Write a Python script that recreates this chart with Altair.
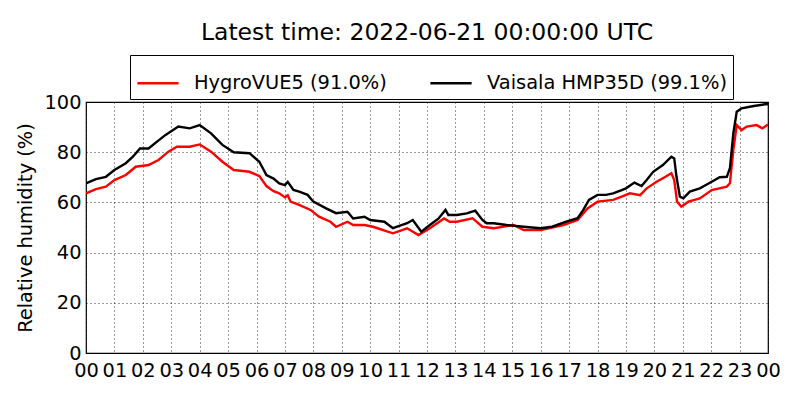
import altair as alt
import pandas as pd

hours_v = [0, 0.35, 0.7, 1.0, 1.4, 1.65, 1.9, 2.2, 2.5, 2.8, 3.25, 3.65, 4.0, 4.4, 4.8, 5.2,
           5.75, 6.1, 6.35, 6.6, 6.8, 7.0, 7.1, 7.3, 7.5, 7.8, 8.0, 8.45, 8.8, 9.2, 9.4, 9.8,
           10.0, 10.5, 10.8, 11.3, 11.5, 11.8, 12.1, 12.4, 12.65, 12.75, 13.05, 13.4, 13.7,
           13.95, 14.1, 14.35, 14.8, 15.4, 16.0, 16.4, 16.9, 17.3, 17.5, 17.7, 18.0, 18.3,
           18.55, 18.85, 19.0, 19.3, 19.55, 19.73, 19.96, 20.3, 20.6, 20.7, 20.78, 20.9, 21.02,
           21.25, 21.6, 22.02, 22.3, 22.55, 22.66, 22.78, 22.9, 23.07, 23.5, 23.95, 24]
vaisala = [67.6, 69.3, 70.2, 72.9, 75.6, 78.2, 81.5, 81.5, 84.2, 86.9, 90.2, 89.5, 90.8, 87.5,
           82.9, 80, 79.6, 76.2, 70.9, 69.5, 67.6, 66.9, 68.2, 65, 64.3, 63, 60.3, 57.6, 55.7,
           56.3, 53.6, 54.3, 53, 52.3, 49.7, 51.7, 53, 48.3, 51, 53.5, 57, 55, 55, 55.6, 56.7,
           53, 51.7, 51.7, 51, 50.3, 49.7, 50.3, 52.3, 53.7, 57, 61, 63, 63, 63.6, 64.9, 65.6,
           67.9, 66.5, 68.9, 72.2, 74.9, 78.2, 77.5, 70.2, 62.3, 61.6, 64.3, 65.6, 68.2, 70,
           70.2, 73.6, 87.5, 96.1, 97.5, 98.4, 99.2, 99.1]

hours_h = [0, 0.35, 0.7, 1.0, 1.4, 1.75, 2.2, 2.55, 2.9, 3.2, 3.65, 4.0, 4.4, 4.8, 5.2, 5.75,
           6.1, 6.35, 6.6, 6.8, 7.0, 7.1, 7.2, 7.5, 7.9, 8.2, 8.6, 8.8, 9.2, 9.4, 9.8, 10.1,
           10.8, 11.3, 11.7, 12.1, 12.6, 12.8, 13.05, 13.6, 13.95, 14.35, 15.05, 15.4, 16.0,
           16.8, 17.3, 17.65, 18.0, 18.55, 18.85, 19.14, 19.5, 19.73, 20.08, 20.3, 20.6, 20.7,
           20.8, 20.95, 21.2, 21.6, 22.02, 22.55, 22.66, 22.78, 22.9, 23.07, 23.25, 23.6, 23.8, 24]
hygrovue = [63.6, 65.3, 66.3, 68.9, 70.9, 74.2, 74.9, 76.9, 80.2, 82.2, 82.2, 83.1, 80.2, 76.2,
            72.9, 72.2, 70.5, 66.5, 64.5, 63.6, 62.0, 62.8, 60.3, 59, 57, 54.3, 52.3, 50.3,
            52.3, 51, 51, 50.3, 47.7, 49.7, 47, 49.7, 53.6, 52.3, 52.3, 53.7, 50.3, 49.7, 51,
            49, 49, 51, 53, 57.6, 60.3, 61, 62.3, 63.6, 62.9, 65.6, 68.2, 69.6, 71.6, 68.9,
            60.3, 58.3, 60.3, 61.6, 64.9, 66.3, 67.6, 80.9, 90.8, 88.8, 90.2, 90.8, 89.5, 91.0]

name_h = "HygroVUE5 (91.0%)"
name_v = "Vaisala HMP35D (99.1%)"

df = pd.concat([
    pd.DataFrame({"hour": hours_h, "rh": hygrovue, "sensor": name_h, "order": 0}),
    pd.DataFrame({"hour": hours_v, "rh": vaisala, "sensor": name_v, "order": 1}),
])

font = "DejaVu Sans"
fs = 19.4

chart = alt.Chart(df).mark_line(strokeWidth=2.4, clip=True).encode(
    x=alt.X("hour:Q", scale=alt.Scale(domain=[0, 24], nice=False),
            axis=alt.Axis(values=list(range(25)), title=None, labelOverlap=False, labelFlush=False,
                          labelExpr="(datum.value % 24) < 10 ? '0' + (datum.value % 24) : '' + (datum.value % 24)")),
    y=alt.Y("rh:Q", scale=alt.Scale(domain=[0, 100], nice=False),
            axis=alt.Axis(values=[0, 20, 40, 60, 80, 100], title="Relative humidity (%)",
                          labelOverlap=False, labelFlush=False)),
    color=alt.Color("sensor:N",
                    scale=alt.Scale(domain=[name_h, name_v], range=["#ff0000", "#000000"]),
                    legend=alt.Legend(title=None, orient="none", legendX=44, legendY=-47,
                                      direction="horizontal", symbolType="stroke",
                                      symbolSize=1700, symbolStrokeWidth=2.5,
                                      labelFontSize=fs, labelFont=font, labelColor="black",
                                      labelLimit=400,
                                      columnPadding=38, labelOffset=14,
                                      strokeColor="black", padding=6, fillColor="white")),
    order="order:Q",
).properties(
    width=682, height=251,
    title=alt.TitleParams("Latest time: 2022-06-21 00:00:00 UTC", fontSize=23.5, font=font,
                          fontWeight="normal", color="black", anchor="middle", offset=10),
    autosize=alt.AutoSizeParams(type="none"),
    padding={"left": 78, "top": 94, "right": 24, "bottom": 38},
).configure_view(
    stroke="black", strokeWidth=1.2
).configure_axis(
    labelFont=font, labelFontSize=fs, labelColor="black",
    titleFont=font, titleFontSize=fs, titleColor="black", titleFontWeight="normal",
    grid=True, gridColor="black", gridDash=[1, 3], gridWidth=0.8, gridOpacity=1,
    domain=False, ticks=False,
).configure_axisX(
    labelPadding=8
).configure_axisY(
    labelPadding=5, titlePadding=8
)

chart.save("out.html", embed_options={"renderer": "svg", "actions": False})
